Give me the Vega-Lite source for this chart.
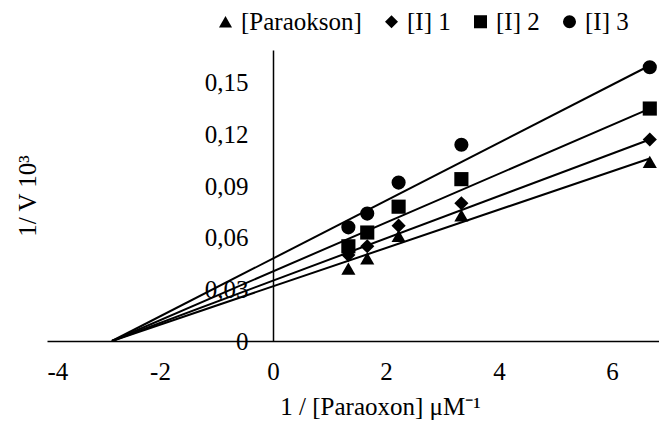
{
  "$schema": "https://vega.github.io/schema/vega-lite/v6.json",
  "width": 612,
  "height": 291,
  "autosize": "none",
  "padding": {"left": 47, "top": 50, "right": 0, "bottom": 91},
  "background": "white",
  "config": {"view": {"stroke": null}, "font": "Liberation Serif"},
  "datasets": {
    "points": [
      {"series": "[Paraokson]", "x": 1.333, "y": 0.042},
      {"series": "[Paraokson]", "x": 1.667, "y": 0.048},
      {"series": "[Paraokson]", "x": 2.222, "y": 0.061},
      {"series": "[Paraokson]", "x": 3.333, "y": 0.073},
      {"series": "[Paraokson]", "x": 6.667, "y": 0.104},
      {"series": "[I] 1", "x": 1.333, "y": 0.050},
      {"series": "[I] 1", "x": 1.667, "y": 0.055},
      {"series": "[I] 1", "x": 2.222, "y": 0.067},
      {"series": "[I] 1", "x": 3.333, "y": 0.080},
      {"series": "[I] 1", "x": 6.667, "y": 0.117},
      {"series": "[I] 2", "x": 1.333, "y": 0.055},
      {"series": "[I] 2", "x": 1.667, "y": 0.063},
      {"series": "[I] 2", "x": 2.222, "y": 0.078},
      {"series": "[I] 2", "x": 3.333, "y": 0.094},
      {"series": "[I] 2", "x": 6.667, "y": 0.135},
      {"series": "[I] 3", "x": 1.333, "y": 0.066},
      {"series": "[I] 3", "x": 1.667, "y": 0.074},
      {"series": "[I] 3", "x": 2.222, "y": 0.092},
      {"series": "[I] 3", "x": 3.333, "y": 0.114},
      {"series": "[I] 3", "x": 6.667, "y": 0.159}
    ],
    "lines": [
      {"series": "[Paraokson]", "x": -2.85, "y": 0},
      {"series": "[Paraokson]", "x": 6.667, "y": 0.106},
      {"series": "[I] 1", "x": -2.85, "y": 0},
      {"series": "[I] 1", "x": 6.667, "y": 0.117},
      {"series": "[I] 2", "x": -2.85, "y": 0},
      {"series": "[I] 2", "x": 6.667, "y": 0.135},
      {"series": "[I] 3", "x": -2.85, "y": 0},
      {"series": "[I] 3", "x": 6.667, "y": 0.160}
    ]
  },
  "layer": [
    {
      "data": {"name": "lines"},
      "mark": {"type": "line", "color": "black", "strokeWidth": 2},
      "encoding": {
        "x": {
          "field": "x", "type": "quantitative",
          "scale": {"domain": [-4, 6.83], "nice": false, "zero": false},
          "axis": {
            "title": "1 / [Paraoxon] μM⁻¹",
            "values": [-4, -2, 0, 2, 4, 6],
            "labelExpr": "'' + datum.value",
            "ticks": false, "grid": false,
            "domainColor": "black", "domainWidth": 1.5,
            "labelFont": "Liberation Serif", "labelFontSize": 25, "labelColor": "black",
            "labelPadding": 18,
            "titleFont": "Liberation Serif", "titleFontSize": 25, "titleFontWeight": "normal", "titleColor": "black",
            "titlePadding": 10,
            "titleX": 333
          }
        },
        "y": {
          "field": "y", "type": "quantitative",
          "scale": {"domain": [0, 0.169], "nice": false},
          "axis": {
            "title": "1/ V 10³",
            "values": [0, 0.03, 0.06, 0.09, 0.12, 0.15],
            "labelExpr": "datum.value == 0 ? '0' : replace(format(datum.value, '.2f'), '.', ',')",
            "offset": -226,
            "ticks": false, "grid": false,
            "domainColor": "black", "domainWidth": 1.5,
            "labelFont": "Liberation Serif", "labelFontSize": 25, "labelColor": "black",
            "labelPadding": 25,
            "titleFont": "Liberation Serif", "titleFontSize": 25, "titleFontWeight": "normal", "titleColor": "black",
            "titlePadding": 164
          }
        },
        "detail": {"field": "series", "type": "nominal"}
      }
    },
    {
      "data": {"name": "points"},
      "mark": {"type": "point", "filled": true, "opacity": 1, "size": 200, "color": "black"},
      "encoding": {
        "x": {"field": "x", "type": "quantitative"},
        "y": {"field": "y", "type": "quantitative"},
        "shape": {
          "field": "series", "type": "nominal",
          "scale": {
            "domain": ["[Paraokson]", "[I] 1", "[I] 2", "[I] 3"],
            "range": ["triangle-up", "diamond", "square", "circle"]
          },
          "legend": {
            "title": null,
            "orient": "none",
            "direction": "horizontal",
            "legendX": 166,
            "legendY": -41,
            "padding": 0,
            "symbolSize": 170,
            "symbolFillColor": "black",
            "symbolStrokeColor": "black",
            "symbolOpacity": 1,
            "labelFont": "Liberation Serif",
            "labelFontSize": 25,
            "labelColor": "black",
            "labelOffset": 3,
            "columnPadding": 17
          }
        }
      }
    }
  ]
}
